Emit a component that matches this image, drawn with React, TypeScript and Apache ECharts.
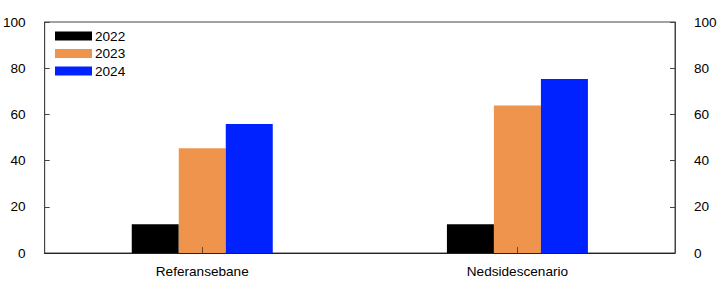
import React, { useEffect, useRef } from "react";
import * as echarts from "echarts";

const categories = ["Referansebane", "Nedsidescenario"];
const seriesNames = ["2022", "2023", "2024"];
const values2022 = [12.4, 12.5];
const values2023 = [45.3, 63.9];
const values2024 = [55.8, 75.3];
const yTicks = [0, 20, 40, 60, 80, 100];

const colors = ["#000000", "#ee944c", "#0022ff"];
const font = "'Liberation Sans', Arial, Helvetica, sans-serif";
const fs = 13.6;

export default function App() {
  const ref = useRef<HTMLDivElement>(null);
  useEffect(() => {
    document.body.style.margin = "0";
    if (!ref.current) return;
    const chart = echarts.init(ref.current, undefined, { renderer: "svg" });
    const axisColor = "#444";
    const yAxisCommon = {
      type: "value" as const,
      min: yTicks[0],
      max: yTicks[yTicks.length - 1],
      interval: 20,
      axisLine: { show: true, lineStyle: { color: axisColor, width: 1 } },
      axisTick: { show: true, inside: true, length: 5, lineStyle: { color: axisColor } },
      splitLine: { show: false },
      axisLabel: { color: "#000", fontSize: fs, fontFamily: font, margin: 19 },
    };
    const data = [values2022, values2023, values2024];
    chart.setOption({
      animation: false,
      grid: {
        left: 44,
        right: 47,
        top: 22,
        bottom: 35,
        show: true,
        borderColor: axisColor,
        borderWidth: 1,
        backgroundColor: "transparent",
      },
      legend: {
        orient: "vertical",
        left: 55,
        top: 29,
        padding: 0,
        itemWidth: 37,
        itemHeight: 9,
        itemGap: 3.5,
        icon: "rect",
        textStyle: { color: "#000", fontSize: fs, fontFamily: font, lineHeight: 14, padding: [0, 0, 0, -2] },
        data: seriesNames,
      },
      xAxis: {
        type: "category",
        data: categories,
        z: 3,
        axisLine: { show: true, lineStyle: { color: "#222", width: 1 } },
        axisTick: { show: true, inside: true, alignWithLabel: true, length: 6, lineStyle: { color: "#6b4a2a" } },
        axisLabel: { color: "#000", fontSize: fs, fontFamily: font, margin: 11 },
      },
      yAxis: [
        { ...yAxisCommon, position: "left" },
        { ...yAxisCommon, position: "right" },
      ],
      series: seriesNames.map((name, i) => ({
        name,
        type: "bar",
        data: data[i],
        barWidth: 47,
        barGap: "0%",
        itemStyle: { color: colors[i] },
      })),
    });
    return () => chart.dispose();
  }, []);
  return <div ref={ref} style={{ width: 722, height: 288 }} />;
}
